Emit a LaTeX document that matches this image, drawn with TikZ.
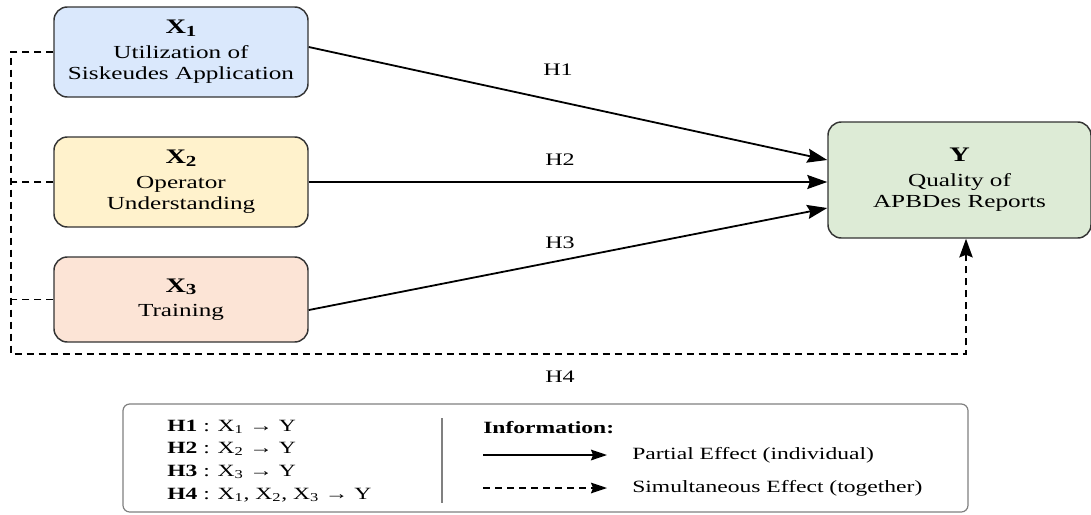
\documentclass[tikz,border=0pt]{standalone}
\usepackage{fontspec}
\setmainfont{Liberation Serif}[FakeStretch=1.37]
\usepackage{tikz}
\usetikzlibrary{arrows.meta,positioning,calc}
\definecolor{boxline}{HTML}{333333}
\definecolor{legendline}{HTML}{808080}
\definecolor{x1fill}{HTML}{DAE8FC}
\definecolor{x2fill}{HTML}{FFF2CC}
\definecolor{x3fill}{HTML}{FCE4D6}
\definecolor{yfill}{HTML}{DDEBD6}
\tikzset{
  var box/.style={
    draw=boxline,
    line width=1.1pt,
    rounded corners=10pt,
    align=center,
    inner sep=0pt,
    minimum width=190.5pt,
    font=\fontsize{13.8}{16.3}\selectfont
  },
  partial/.style={
    line width=1.35pt,
    -{Stealth[length=15pt,width=10.5pt,inset=2pt]}
  },
  simul/.style={
    line width=1.3pt,
    dash pattern=on 5.5pt off 3.5pt
  },
  hyp label/.style={font=\fontsize{13.2}{15}\selectfont},
  legend text/.style={
    font=\fontsize{12.9}{15}\selectfont,
    anchor=west,
    inner sep=0pt
  }
}
\newcommand{\vartitle}[2]{{\fontsize{15.5}{18}\selectfont\bfseries #1\raisebox{-0.3ex}{\fontsize{11.5}{11.5}\selectfont #2}}}

\begin{document}
\begin{tikzpicture}[x=0.75pt, y=-0.75pt]
 \useasboundingbox (0,0) rectangle (1091,514);
 % variables
 \node[var box, fill=x1fill, minimum height=67.5pt] (x1) at (181,52)
   {\vartitle{X}{1}\\[2pt] Utilization of\\ Siskeudes Application};
 \node[var box, fill=x2fill, minimum height=67.5pt] (x2) at (181,182)
   {\vartitle{X}{2}\\[2pt] Operator\\ Understanding};
 \node[var box, fill=x3fill, minimum height=63.75pt] (x3) at (181,299.5)
   {\vartitle{X}{3}\\[2pt] Training};
 \node[var box, fill=yfill, minimum width=197.25pt, minimum height=87pt] (y) at (959.5,180)
   {\vartitle{Y}{}\\[2pt] Quality of\\ APBDes Reports};
 % partial effects
 \draw[partial] ([yshift=3.75pt]x1.east) -- ([yshift=15pt]y.west);
 \draw[partial] (x2.east) -- (x2.east -| y.west);
 \draw[partial] ([yshift=-7.9pt]x3.east) -- ([yshift=-21pt]y.west);
 \node[hyp label] (h1) at (558,70) {H1};
 \node[hyp label] (h2) at (560,160) {H2};
 \node[hyp label] (h3) at (560,243) {H3};
 % simultaneous effect
 \coordinate (bus top) at (11,52);
 \coordinate (bus bottom) at (11,354);
 \coordinate (bus end) at (966,354);
 \draw[simul, -{Stealth[length=14pt,width=10pt,inset=2pt]}]
   (x1.west) -- (bus top) -- (bus bottom) -- (bus end) -- (bus end |- y.south);
 \draw[simul] (x2.west) -- (x2.west -| bus top);
 \draw[simul] (x3.west) -- (x3.west -| bus top);
 \node[hyp label] (h4) at (560,377) {H4};
 % legend
 \node[draw=legendline, line width=0.9pt, rounded corners=5pt,
   minimum width=633.75pt, minimum height=81pt] (legend) at (545.5,458) {};
 \draw[legendline, line width=0.9pt] (442,418) -- (442,503);
 \node[legend text] (l1) at (167,427) {\textbf{H1} : X\textsubscript{1} → Y};
 \node[legend text] (l2) at (167,449) {\textbf{H2} : X\textsubscript{2} → Y};
 \node[legend text] (l3) at (167,472) {\textbf{H3} : X\textsubscript{3} → Y};
 \node[legend text] (l4) at (167,495) {\textbf{H4} : X\textsubscript{1}, X\textsubscript{2}, X\textsubscript{3} → Y};
 \node[legend text] (info) at (483,428) {\textbf{Information:}};
 \coordinate (pa start) at (483,455);
 \coordinate (pa end) at (607,455);
 \draw[line width=1.3pt, -{Stealth[length=12pt,width=8pt,inset=1.5pt]}] (pa start) -- (pa end);
 \node[legend text] (pa text) at (632,455) {Partial Effect (individual)};
 \coordinate (si start) at (483,488);
 \coordinate (si end) at (607,488);
 \draw[simul, line width=1.1pt, -{Stealth[length=12pt,width=8pt,inset=1.5pt]}] (si start) -- (si end);
 \node[legend text] (si text) at (632,488) {Simultaneous Effect (together)};
\end{tikzpicture}
\end{document}
